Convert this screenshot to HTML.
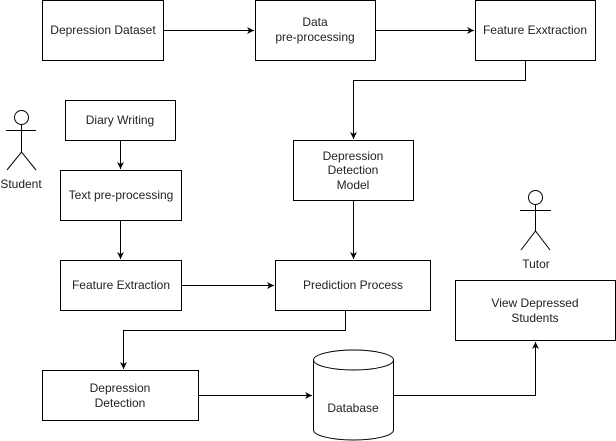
<!DOCTYPE html>
<html><head><meta charset="utf-8"><style>
html,body{margin:0;padding:0;background:#fff;}
svg{display:block;}
text{font-family:"Liberation Sans",Arial,sans-serif;font-size:12px;fill:#222;text-anchor:middle;}
</style></head><body>
<svg width="616" height="441" viewBox="0 0 616 441" xmlns="http://www.w3.org/2000/svg">
<defs><marker id="a" markerWidth="8" markerHeight="8" refX="7" refY="4" orient="auto" markerUnits="userSpaceOnUse"><path d="M0,0.5 L7,4 L0,7.5 L2,4 Z" fill="#000"/></marker></defs>
<g fill="#fff" stroke="#000" stroke-width="1">
<rect x="42.5" y="0.5" width="121" height="60"/>
<rect x="255.5" y="0.5" width="120" height="60"/>
<rect x="475.5" y="0.5" width="120" height="60"/>
<rect x="293.5" y="140.5" width="120" height="60"/>
<rect x="65.5" y="100.5" width="110" height="40"/>
<rect x="60.5" y="170.5" width="121" height="50"/>
<rect x="60.5" y="260.5" width="121" height="50"/>
<rect x="275.5" y="260.5" width="155" height="50"/>
<rect x="42.5" y="370.5" width="156" height="50"/>
<rect x="455.5" y="280.5" width="160" height="60"/>
<path d="M313.5,360 L313.5,430 A40,10 0 0 0 393.5,430 L393.5,360 A40,10 0 0 0 313.5,360 Z"/>
<path d="M313.5,360 A40,10 0 0 0 393.5,360" fill="none"/>
</g>
<g fill="none" stroke="#000" stroke-width="1">
<line x1="163.5" y1="30.5" x2="254" y2="30.5" marker-end="url(#a)"/>
<line x1="375.5" y1="30.5" x2="474" y2="30.5" marker-end="url(#a)"/>
<polyline points="525.5,60.5 525.5,80.5 353.5,80.5 353.5,139" marker-end="url(#a)"/>
<line x1="120.5" y1="140.5" x2="120.5" y2="169" marker-end="url(#a)"/>
<line x1="120.5" y1="220.5" x2="120.5" y2="259" marker-end="url(#a)"/>
<line x1="353.5" y1="200.5" x2="353.5" y2="259" marker-end="url(#a)"/>
<line x1="181.5" y1="285.5" x2="274" y2="285.5" marker-end="url(#a)"/>
<polyline points="345.5,310.5 345.5,330.5 123.5,330.5 123.5,369" marker-end="url(#a)"/>
<line x1="198.5" y1="395.5" x2="312" y2="395.5" marker-end="url(#a)"/>
<polyline points="393.5,395.5 535.5,395.5 535.5,342" marker-end="url(#a)"/>
<!-- student -->
<circle cx="21.5" cy="117.5" r="7"/>
<line x1="21.5" y1="124.5" x2="21.5" y2="152"/>
<line x1="6" y1="130.5" x2="36" y2="130.5"/>
<polyline points="7,170 21.5,152 36,170"/>
<!-- tutor -->
<circle cx="535.5" cy="197.5" r="7"/>
<line x1="535.5" y1="204.5" x2="535.5" y2="231"/>
<line x1="520" y1="210.5" x2="551" y2="210.5"/>
<polyline points="521,250 535.5,231 550,250"/>
</g>
<text x="103" y="34">Depression Dataset</text>
<text x="315" y="26">Data</text>
<text x="315" y="41">pre-processing</text>
<text x="535" y="34">Feature Exxtraction</text>
<text x="353" y="160">Depression</text>
<text x="353" y="174">Detection</text>
<text x="353" y="189">Model</text>
<text x="120" y="124">Diary Writing</text>
<text x="121" y="199">Text pre-processing</text>
<text x="121" y="289">Feature Extraction</text>
<text x="353" y="289">Prediction Process</text>
<text x="120" y="392">Depression</text>
<text x="120" y="407">Detection</text>
<text x="353" y="412">Database</text>
<text x="535" y="307">View Depressed</text>
<text x="535" y="322">Students</text>
<text x="21" y="188">Student</text>
<text x="536" y="268">Tutor</text>
</svg>
</body></html>
